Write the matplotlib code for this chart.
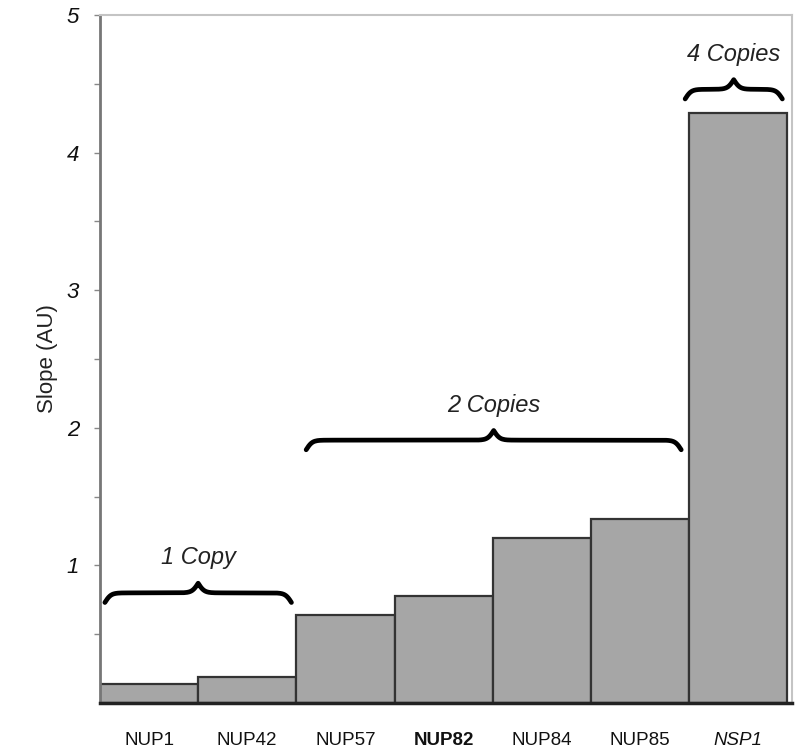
import matplotlib
matplotlib.use("Agg")
import matplotlib.pyplot as plt
import numpy as np

genes = ["NUP1", "NUP42", "NUP57", "NUP82", "NUP84", "NUP85", "NSP1"]
slopes = [0.14, 0.19, 0.64, 0.78, 1.20, 1.34, 4.29]

groups = ["1 Copy", "2 Copies", "4 Copies"]
group_x0 = [-0.45, 1.60, 5.46]
group_x1 = [1.45, 5.42, 6.45]
group_yend = [0.73, 1.84, 4.39]
group_ytip = [0.87, 1.98, 4.53]

plt.rcParams['font.family'] = ['Liberation Sans', 'DejaVu Sans']


def brace(ax, x0, x1, yend, ytip, beta=32.0):
    n = 301
    x = np.linspace(x0, x1, n)
    xh = x[:n // 2 + 1]
    yh = 1 / (1 + np.exp(-beta * (xh - xh[0]))) + 1 / (1 + np.exp(-beta * (xh - xh[-1])))
    y = np.concatenate((yh, yh[-2::-1]))
    y = yend + (y - 0.5) * (ytip - yend)
    ax.plot(x, y, color="black", lw=3.4, solid_capstyle="round", zorder=5)


fig = plt.figure(figsize=(8.03, 7.51), dpi=100)
ax = fig.add_axes([0.1245, 0.064, 0.862, 0.916])

xpos = np.arange(len(genes))
ax.bar(xpos, slopes, width=1.0, color="#a6a6a6", edgecolor="#333333", linewidth=1.6, zorder=2)

ax.set_xlim(-0.5, 6.55)
ax.set_ylim(0, 5)

ax.set_yticks([1, 2, 3, 4, 5])
ax.set_yticks(np.arange(0.5, 5, 1.0), minor=True)
ax.set_yticklabels(["1", "2", "3", "4", "5"], fontsize=16, fontstyle="italic", color="#111111")
ax.tick_params(axis="y", which="both", direction="out", length=4, width=1, color="#888888", pad=11)
ax.set_ylabel("Slope (AU)", fontsize=16, color="#222222", labelpad=6)

ax.set_xticks(xpos)
ax.set_xticklabels(genes, fontsize=13.5, color="#111111")
ax.tick_params(axis="x", length=0, pad=21)
for lbl in ax.get_xticklabels():
    if lbl.get_text() == "NUP82":
        lbl.set_fontweight("bold")
    if lbl.get_text() == "NSP1":
        lbl.set_fontstyle("italic")

ax.spines["left"].set_color("#777777")
ax.spines["left"].set_linewidth(2)
ax.spines["bottom"].set_color("#222222")
ax.spines["bottom"].set_linewidth(2.5)
ax.spines["top"].set_color("#c4c4c4")
ax.spines["top"].set_linewidth(1.5)
ax.spines["right"].set_color("#c4c4c4")
ax.spines["right"].set_linewidth(1.5)

for g, a, b, ye, yt in zip(groups, group_x0, group_x1, group_yend, group_ytip):
    brace(ax, a, b, ye, yt)
    ax.text((a + b) / 2, yt + 0.1, g, ha="center", va="bottom", fontsize=17,
            fontstyle="italic", color="#222222")

fig.savefig("out.png", dpi=100)
